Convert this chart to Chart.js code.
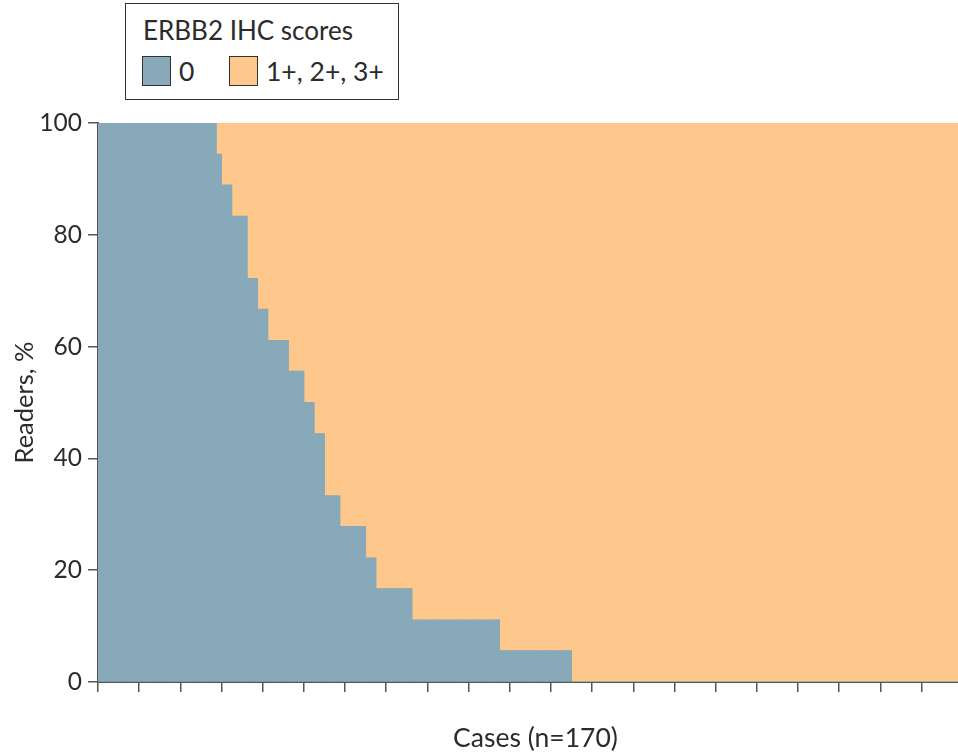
<!DOCTYPE html>
<html>
<head>
<meta charset="utf-8">
<script src="https://cdn.jsdelivr.net/npm/chart.js@4.4.1/dist/chart.umd.min.js"></script>
<style>
  html, body { margin: 0; padding: 0; background: #fff; overflow: hidden; }
  body { width: 958px; height: 754px; position: relative; font-family: Lato, sans-serif; color: #2b2b2b; }
  #wrap { position: absolute; left: 0; top: 0; width: 990px; height: 754px; }
  #legend {
    position: absolute; left: 125px; top: 3px; width: 274px; height: 97px;
    border: 1.5px solid #333; box-sizing: border-box; background: #fff;
  }
  #legend .title { position: absolute; left: 17px; top: 11px; font-size: 26px; line-height: 30px; white-space: nowrap; }
  #legend .item { position: absolute; top: 51px; height: 32px; display: flex; align-items: center; font-size: 26.5px; white-space: nowrap; }
  #legend .sw { width: 29px; height: 30px; border: 1px solid #333; box-sizing: border-box; margin-right: 8px; }
</style>
</head>
<body>
<div id="wrap"><canvas id="chart" width="990" height="754"></canvas></div>
<div id="legend">
  <div class="title">ERBB2 IHC scores</div>
  <div class="item" style="left:16px"><div class="sw" style="background:#87a9b9"></div>0</div>
  <div class="item" style="left:103px"><div class="sw" style="background:#fec88c"></div>1+, 2+, 3+</div>
</div>
<script>
// step groups: how many cases share the same split of readers
const groupSizes = [23, 1, 2, 3, 2, 2, 4, 3, 2, 2, 3, 5, 2, 7, 17, 14, 78];
const score0Pct = [100, 94.4, 88.9, 83.3, 72.2, 66.7, 61.1, 55.6, 50, 44.4, 33.3, 27.8, 22.2, 16.7, 11.1, 5.6, 0];
const score1PlusPct = [0, 5.6, 11.1, 16.7, 27.8, 33.3, 38.9, 44.4, 50, 55.6, 66.7, 72.2, 77.8, 83.3, 88.9, 94.4, 100];
const yTicks = [0, 20, 40, 60, 80, 100];
const seriesNames = ['0', '1+, 2+, 3+'];
const colors = ['#87a9b9', '#fec88c'];

const labels = [], zeroData = [], plusData = [];
groupSizes.forEach((n, g) => {
    for (let i = 0; i < n; i++) {
        labels.push('Case ' + (labels.length + 1));
        zeroData.push(score0Pct[g]);
        plusData.push(score1PlusPct[g]);
    }
});

const axisColor = '#555';
const textColor = '#2b2b2b';
new Chart(document.getElementById('chart'), {
    type: 'bar',
    data: {
        labels,
        datasets: [
            { label: seriesNames[0], data: zeroData, backgroundColor: colors[0], inflateAmount: 0.5 },
            { label: seriesNames[1], data: plusData, backgroundColor: colors[1], inflateAmount: 0.5 }
        ]
    },
    options: {
        responsive: false,
        animation: false,
        events: [],
        layout: { padding: { top: 123, right: 17, left: 0, bottom: 0 } },
        datasets: { bar: { barPercentage: 1, categoryPercentage: 1, borderWidth: 0 } },
        plugins: { legend: { display: false }, tooltip: { enabled: false } },
        scales: {
            x: {
                stacked: true,
                afterFit: s => { s.height = 72; },
                border: { color: axisColor, width: 2 },
                grid: {
                    drawOnChartArea: false,
                    tickLength: 10,
                    lineWidth: 1.5,
                    color: c => (c.index % 8 === 0 ? axisColor : 'rgba(0,0,0,0)')
                },
                ticks: { display: false, autoSkip: false },
                title: {
                    display: true, text: 'Cases (n=170)', color: textColor,
                    font: { family: 'Lato', size: 26.5 }, padding: { top: 0, bottom: 0 }
                }
            },
            y: {
                stacked: true,
                min: 0, max: 100,
                afterFit: s => { s.width = 98; },
                afterBuildTicks: s => { s.ticks = yTicks.map(v => ({ value: v })); },
                border: { color: axisColor, width: 2 },
                grid: { drawOnChartArea: false, tickLength: 10, lineWidth: 1.5, color: axisColor },
                ticks: { color: textColor, padding: 6, font: { family: 'Lato', size: 24.5 } },
                title: {
                    display: true, text: 'Readers, %', color: textColor,
                    font: { family: 'Lato', size: 25.5 }, padding: { top: 9, bottom: 0 }
                }
            }
        }
    }
});
</script>
</body>
</html>
